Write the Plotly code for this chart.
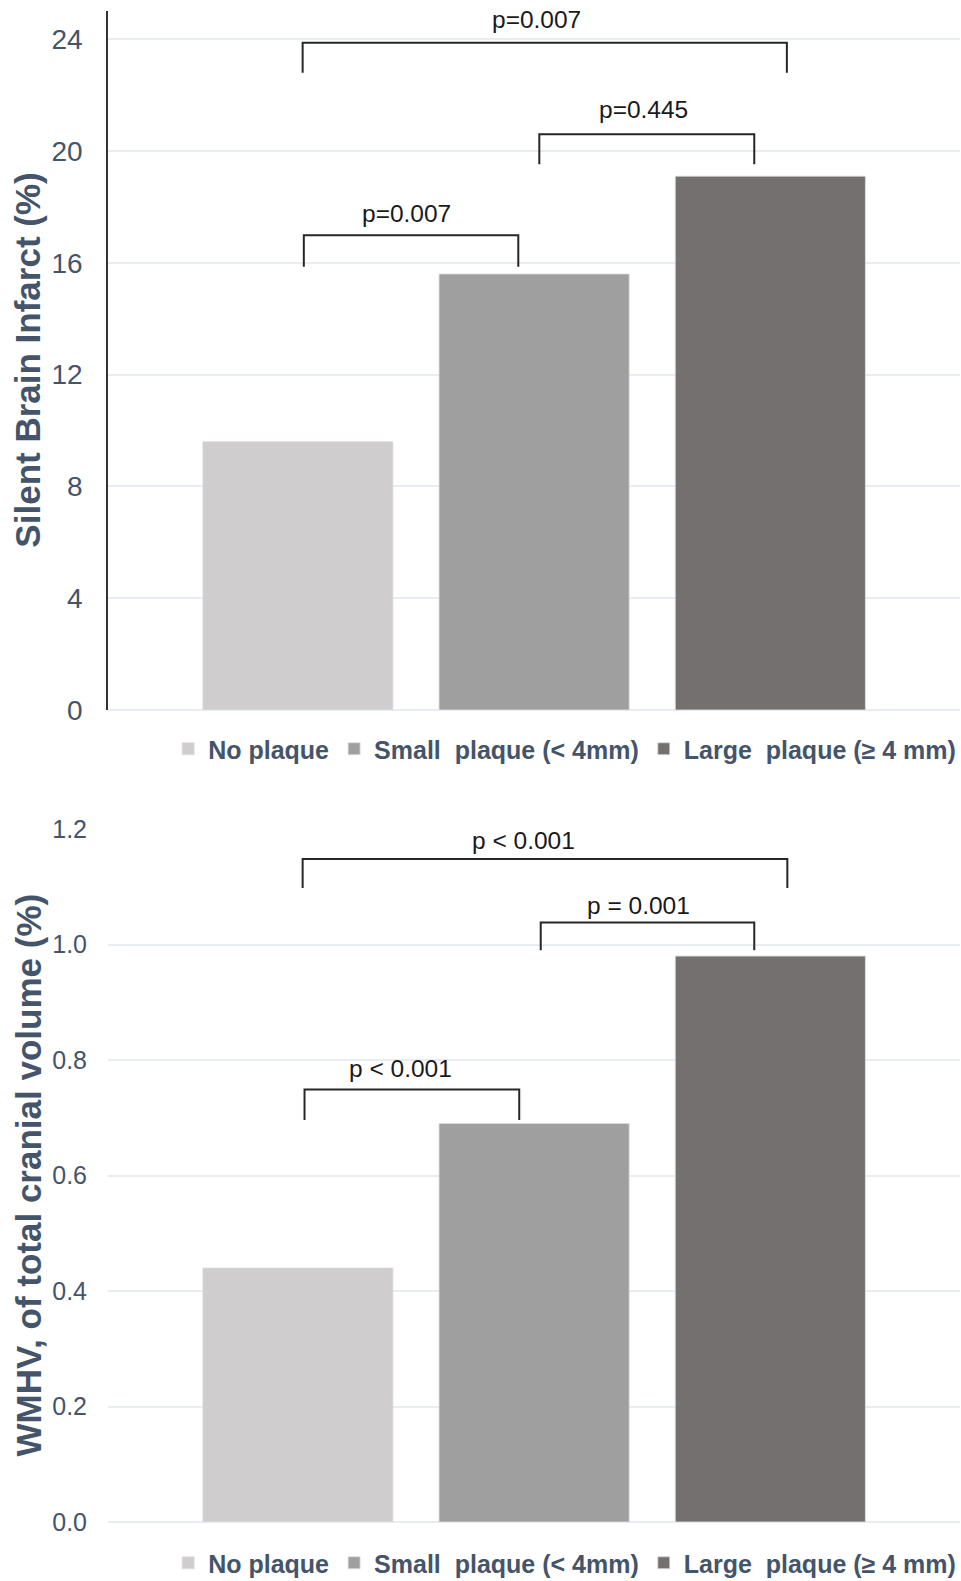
import plotly.graph_objects as go

# ---------------- data ----------------
categories = ["No plaque", "Small\u00a0 plaque (< 4mm)", "Large\u00a0 plaque (≥ 4 mm)"]
sbi_values = [9.6, 15.6, 19.1]          # Silent brain infarct (%)
wmhv_values = [0.44, 0.69, 0.98]        # WMHV, % of total cranial volume
sbi_ticks = [0, 4, 8, 12, 16, 20, 24]
wmhv_ticks = [0.0, 0.2, 0.4, 0.6, 0.8, 1.0, 1.2]
sbi_title = "Silent Brain Infarct (%)"
wmhv_title = "WMHV, of total cranial volume (%)"

# comparison labels
sbi_pvals = ["p=0.007", "p=0.445", "p=0.007"]
wmhv_pvals = ["p < 0.001", "p = 0.001", "p < 0.001"]

# ---------------- styles ----------------
bar_colors = ["#cfcdce", "#9f9f9f", "#74706f"]
label_color = "#44546a"
grid_color = "#e9edf2"
font_family = "Liberation Sans, Arial, sans-serif"
W, H = 961, 1581

# bracket geometry (x in category index units, y in data units)
# each: x0, x1, y_horizontal, y_leg_end, text_x, text_y
sbi_brackets = [
    (0.02, 2.07, 23.87, 22.80, 1.01, 24.72),
    (1.022, 1.932, 20.60, 19.53, 1.462, 21.47),
    (0.025, 0.933, 16.99, 15.86, 0.4585, 17.78),
]
wmhv_brackets = [
    (0.02, 2.072, 1.148, 1.098, 0.957, 1.181),
    (1.028, 1.932, 1.038, 0.990, 1.444, 1.068),
    (0.028, 0.937, 0.749, 0.696, 0.435, 0.786),
]

fig = go.Figure()

for i, cat in enumerate(categories):
    fig.add_trace(go.Bar(
        x=[cat], y=[sbi_values[i]], name=cat, width=0.805,
        marker=dict(color=bar_colors[i], line=dict(color="#dedede", width=0.8)),
        xaxis="x", yaxis="y", legend="legend", showlegend=True,
    ))
for i, cat in enumerate(categories):
    fig.add_trace(go.Bar(
        x=[cat], y=[wmhv_values[i]], name=cat, width=0.805,
        marker=dict(color=bar_colors[i], line=dict(color="#dedede", width=0.8)),
        xaxis="x2", yaxis="y2", legend="legend2", showlegend=True,
    ))

xdom = [108 / W, 960 / W]
xrange_ = [-0.804, 2.803]
ydom1 = [1 - 710 / H, 1 - 11.25 / H]
ydom2 = [1 - 1522 / H, 1 - 829 / H]

shapes = []
annotations = []
for (bk, pv, xr, yr) in [(sbi_brackets, sbi_pvals, "x", "y"), (wmhv_brackets, wmhv_pvals, "x2", "y2")]:
    for (x0, x1, yh, yl, tx, ty), lab in zip(bk, pv):
        shapes.append(dict(
            type="path", xref=xr, yref=yr,
            path=f"M {x0},{yl} L {x0},{yh} L {x1},{yh} L {x1},{yl}",
            line=dict(color="#262626", width=2),
        ))
        annotations.append(dict(
            x=tx, y=ty, xref=xr, yref=yr, text=lab, showarrow=False,
            xanchor="center", yanchor="middle",
            font=dict(family=font_family, size=24.5, color="#1a1a1a"),
        ))

# y-axis titles (rotated)
for title, dom in [(sbi_title, ydom1), (wmhv_title, ydom2)]:
    annotations.append(dict(
        x=28 / W, y=(dom[0] + dom[1]) / 2, xref="paper", yref="paper",
        text=title, textangle=-90, showarrow=False,
        xanchor="center", yanchor="middle",
        font=dict(family=font_family, size=35, color=label_color, weight="bold"),
    ))

fig.update_layout(
    width=W, height=H,
    margin=dict(l=0, r=0, t=0, b=0, autoexpand=False),
    paper_bgcolor="white", plot_bgcolor="white",
    barmode="overlay",
    font=dict(family=font_family, color=label_color),
    xaxis=dict(domain=xdom, range=xrange_, anchor="y", showticklabels=False,
               showgrid=False, zeroline=False, showline=False, ticks="", automargin=False,
               categoryorder="array", categoryarray=categories),
    yaxis=dict(domain=ydom1, range=[0, 25], anchor="x",
               tickvals=sbi_ticks, showgrid=True, gridcolor=grid_color, gridwidth=1.5,
               zeroline=True, zerolinecolor=grid_color, zerolinewidth=1.5,
               showline=True, linecolor="#333333", linewidth=1.5, ticks="",
               ticklabelstandoff=18, automargin=False,
               tickfont=dict(family=font_family, size=28, color=label_color)),
    xaxis2=dict(domain=xdom, range=xrange_, anchor="y2", showticklabels=False,
                showgrid=False, zeroline=False, showline=False, ticks="", automargin=False,
                categoryorder="array", categoryarray=categories),
    yaxis2=dict(domain=ydom2, range=[0, 1.2001], anchor="x2",
                tickvals=wmhv_ticks, tickformat=".1f", showgrid=True, gridcolor=grid_color, gridwidth=1.5,
                zeroline=True, zerolinecolor=grid_color, zerolinewidth=1.5,
                showline=False, ticks="", ticklabelstandoff=20, automargin=False,
                tickfont=dict(family=font_family, size=25, color=label_color)),
    legend=dict(orientation="h", x=0.175, y=1 - 749 / H, xanchor="left", yanchor="middle",
                font=dict(family=font_family, size=25, color=label_color, weight="bold"),
                bgcolor="rgba(0,0,0,0)", itemclick=False),
    legend2=dict(orientation="h", x=0.175, y=1 - 1563 / H, xanchor="left", yanchor="middle",
                 font=dict(family=font_family, size=25, color=label_color, weight="bold"),
                 bgcolor="rgba(0,0,0,0)", itemclick=False),
    shapes=shapes,
    annotations=annotations,
)

fig.write_html(
    "out.html",
    config={"displayModeBar": False},
    post_script="document.body.style.margin='0';document.body.style.overflow='hidden';",
)
